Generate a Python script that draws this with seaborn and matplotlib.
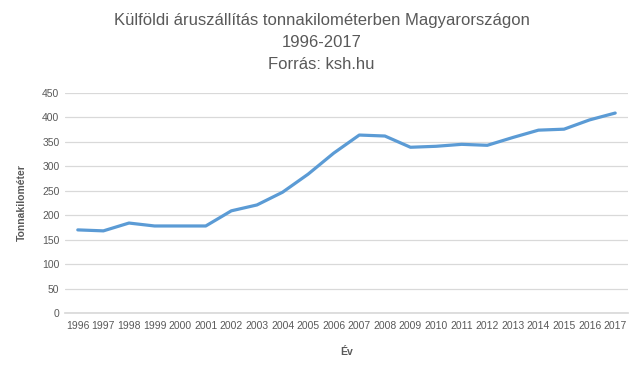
import pandas as pd
import matplotlib
matplotlib.use("Agg")
import matplotlib.pyplot as plt
import seaborn as sns

# Data (tonnakilometer)
years = [str(y) for y in range(1996, 2018)]
values = [170, 168, 184, 178, 178, 178, 209, 221, 247, 284, 327, 364, 362,
          339, 341, 345, 343, 359, 374, 376, 395, 409]
yticks = list(range(0, 451, 50))

df = pd.DataFrame({"Év": years, "Tonnakilométer": values})

sns.set_theme(style="white")
plt.rcParams["font.family"] = ["Liberation Sans", "DejaVu Sans"]

text_color = "#595959"
grid_color = "#D9D9D9"

fig = plt.figure(figsize=(6.43, 3.69), dpi=100)
ax = fig.add_axes([65 / 643, 1 - 313 / 369, (628 - 65) / 643, 220 / 369])

sns.lineplot(data=df, x="Év", y="Tonnakilométer", ax=ax, color="#5B9BD5",
             linewidth=2.3, sort=False)

ax.set_xlim(-0.5, len(years) - 0.5)
ax.set_ylim(0, 450)
ax.set_yticks(yticks)
ax.grid(axis="y", color=grid_color, linewidth=0.9)
ax.set_axisbelow(True)
for s in ["top", "right", "left"]:
    ax.spines[s].set_visible(False)
ax.spines["bottom"].set_color(grid_color)
ax.tick_params(axis="both", length=0, labelsize=7.5, colors=text_color, pad=4)
ax.tick_params(axis="x", pad=6)

ax.set_xlabel("Év", fontsize=7.5, fontweight="bold", color=text_color, labelpad=11)
ax.set_ylabel("Tonnakilométer", fontsize=7.5, fontweight="bold", color=text_color, labelpad=11)

fig.text(0.5, 1 - 13 / 369, "Külföldi áruszállítás tonnakilométerben Magyarországon\n1996-2017\nForrás: ksh.hu",
         ha="center", va="top", fontsize=12, color=text_color, linespacing=1.6)

fig.savefig("out.png", dpi=100)
